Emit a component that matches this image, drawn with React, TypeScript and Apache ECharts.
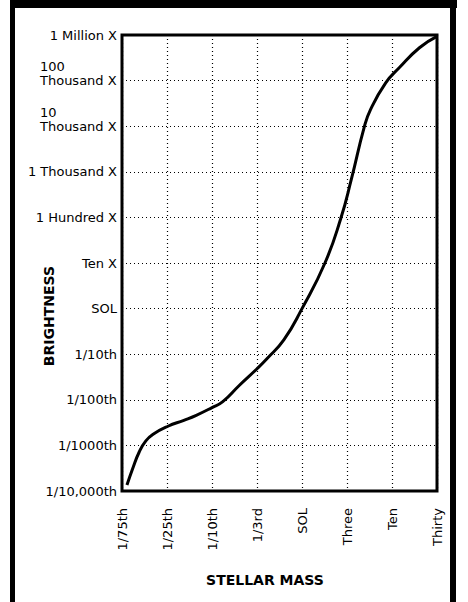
import React, { useEffect, useRef } from "react";
import * as echarts from "echarts";

// Category labels along the stellar-mass axis (evenly spaced)
const massLabels = ["1/75th", "1/25th", "1/10th", "1/3rd", "SOL", "Three", "Ten", "Thirty"];

// Brightness tick labels, one per decade from 10^-4 to 10^6 (relative to the Sun)
const brightnessLabels = [
  "1/10,000th",
  "1/1000th",
  "1/100th",
  "1/10th",
  "SOL",
  "Ten X",
  "1 Hundred X",
  "1 Thousand X",
  "10\nThousand X",
  "100\nThousand X",
  "1 Million X",
];
const brightnessMinExp = -4;
const brightnessMaxExp = 6;

// Mass–luminosity curve: position along mass axis (category index) and log10 brightness
const curveMassPos = [0.11, 0.24, 0.38, 0.53, 0.7, 1.02, 1.375, 1.65, 2.0, 2.24, 2.61, 3.0, 3.22, 3.6, 4.0, 4.51, 4.86, 5.1, 5.38, 5.52, 5.86, 6.16, 6.61, 7.0];
const curveBrightnessExp = [-3.87, -3.5, -3.15, -2.9, -2.75, -2.58, -2.45, -2.34, -2.17, -2.04, -1.68, -1.32, -1.1, -0.68, 0.0, 1.0, 1.97, 2.85, 3.97, 4.36, 4.95, 5.28, 5.72, 5.97];

const FONT = "DejaVu Sans";

export default function App() {
  const ref = useRef<HTMLDivElement>(null);

  useEffect(() => {
    if (!ref.current) return;
    const chart = echarts.init(ref.current, null, { renderer: "svg" });
    const curve = curveMassPos.map((x, i) => [x, curveBrightnessExp[i]]);

    chart.setOption({
      animation: false,
      backgroundColor: "#ffffff",
      grid: {
        show: true,
        left: 122,
        top: 35,
        right: 31,
        bottom: 111,
        borderColor: "#000",
        borderWidth: 3,
        backgroundColor: "transparent",
      },
      xAxis: {
        type: "value",
        min: 0,
        max: massLabels.length - 1,
        interval: 1,
        axisLine: { show: false },
        axisTick: { show: false },
        splitLine: { show: true, lineStyle: { color: "#000", width: 1.2, type: [1, 3] } },
        axisLabel: {
          rotate: 90,
          margin: 17,
          color: "#000",
          fontFamily: FONT,
          fontSize: 13,
          formatter: (v: number) => massLabels[Math.round(v)] ?? "",
        },
      },
      yAxis: {
        type: "value",
        min: brightnessMinExp,
        max: brightnessMaxExp,
        interval: 1,
        axisLine: { show: false },
        axisTick: { show: false },
        splitLine: { show: true, lineStyle: { color: "#000", width: 1.2, type: [1, 3] } },
        axisLabel: {
          margin: 5,
          color: "#000",
          fontFamily: FONT,
          fontSize: 13,
          formatter: (v: number) => {
            const s = brightnessLabels[Math.round(v) - brightnessMinExp] ?? "";
            if (s.includes("\n")) {
              const [a, b] = s.split("\n");
              return `{l|${a}}\n{l|${b}}\n{l| }`;
            }
            return s;
          },
          rich: {
            l: {
              width: 77,
              align: "left",
              fontFamily: FONT,
              fontSize: 13,
              color: "#000",
              lineHeight: 14,
            },
          },
        },
      },
      series: [
        {
          type: "line",
          data: curve,
          smooth: 0.5,
          showSymbol: false,
          lineStyle: { color: "#000", width: 3 },
          z: 5,
        },
      ],
      graphic: [
        { type: "rect", shape: { x: 10, y: 0, width: 5, height: 602 }, style: { fill: "#000" } },
        { type: "rect", shape: { x: 10, y: 0, width: 447, height: 8 }, style: { fill: "#000" } },
        { type: "rect", shape: { x: 450, y: 0, width: 6, height: 602 }, style: { fill: "#000" } },
        {
          type: "text",
          x: 49,
          y: 316,
          rotation: Math.PI / 2,
          style: {
            text: "BRIGHTNESS",
            fill: "#000",
            font: `bold 14px "${FONT}"`,
            textAlign: "center",
            textVerticalAlign: "middle",
          },
        },
        {
          type: "text",
          x: 265,
          y: 580,
          style: {
            text: "STELLAR MASS",
            fill: "#000",
            font: `bold 14px "${FONT}"`,
            textAlign: "center",
            textVerticalAlign: "middle",
          },
        },
      ],
    });

    return () => chart.dispose();
  }, []);

  return (
    <div
      ref={ref}
      style={{ position: "fixed", left: 0, top: 0, width: 468, height: 602, background: "#fff" }}
    />
  );
}
